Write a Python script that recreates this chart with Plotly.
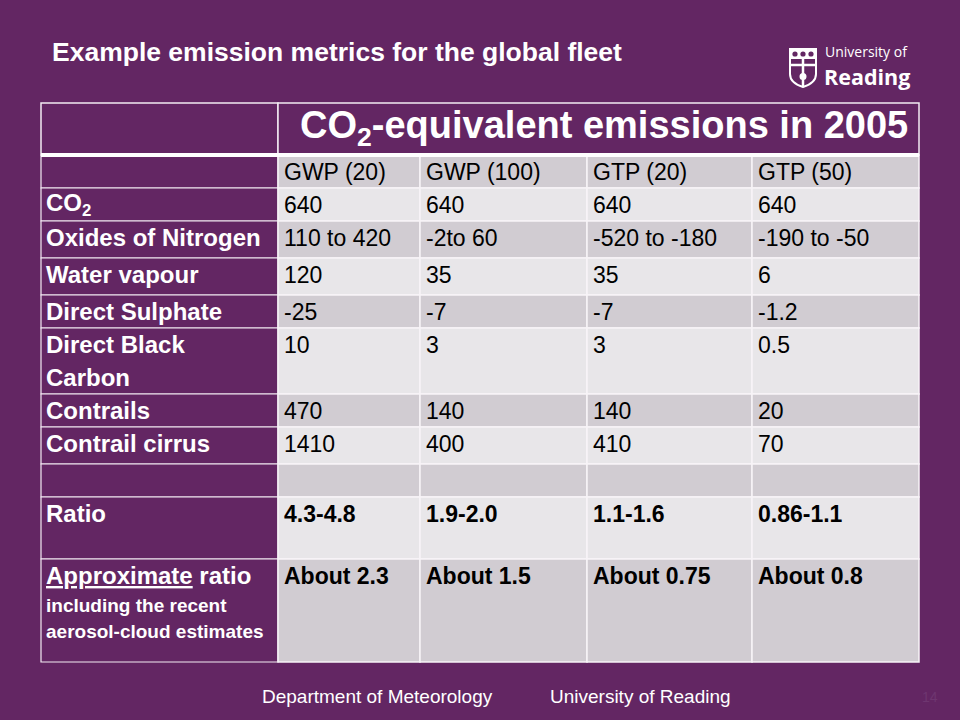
import plotly.graph_objects as go

# ---------------- data ----------------
title_text = "Example emission metrics for the global fleet"
header_text = "CO<sub>2</sub>-equivalent emissions in 2005"
metrics = ["GWP (20)", "GWP (100)", "GTP (20)", "GTP (50)"]
species = [
    ["CO<sub>2</sub>"],
    ["Oxides of Nitrogen"],
    ["Water vapour"],
    ["Direct Sulphate"],
    ["Direct Black", "Carbon"],
    ["Contrails"],
    ["Contrail cirrus"],
    [""],
    ["Ratio"],
    ["<u>Approximate</u> ratio", "including the recent", "aerosol-cloud estimates"],
]
gwp20 = ["640", "110 to 420", "120", "-25", "10", "470", "1410", "", "4.3-4.8", "About 2.3"]
gwp100 = ["640", "-2to 60", "35", "-7", "3", "140", "400", "", "1.9-2.0", "About 1.5"]
gtp20 = ["640", "-520 to -180", "35", "-7", "3", "140", "410", "", "1.1-1.6", "About 0.75"]
gtp50 = ["640", "-190 to -50", "6", "-1.2", "0.5", "20", "70", "", "0.86-1.1", "About 0.8"]
bold_rows = ["Ratio", "<u>Approximate</u> ratio"]
footer_left = "Department of Meteorology"
footer_right = "University of Reading"
logo_top = "University of"
logo_bottom = "Reading"

# ---------------- layout / style ----------------
W, H = 960, 720
BG = "#632663"
DARK = "#d1ccd2"
LIGHT = "#e8e6e9"
GRID = "#f3ecf3"
FONT = "Arial, 'Liberation Sans', sans-serif"
LOGO_FONT = "'Open Sans', 'Noto Sans', sans-serif"

col_edges = [41, 278, 420, 587, 752, 919]
header_h = 52
row_heights = [33, 33, 37, 37, 33, 66, 33, 37, 33, 62, 103]  # metric row + data rows
table_top = 103
slot = 33
pad = 4

row_edges = [table_top, table_top + header_h]
for h in row_heights:
    row_edges.append(row_edges[-1] + h)

columns = [gwp20, gwp100, gtp20, gtp50]

shapes = []
annotations = []

# top header row: two purple cells
shapes.append(dict(type="rect", x0=col_edges[0], x1=col_edges[1], y0=row_edges[0], y1=row_edges[1],
                   fillcolor=BG, line=dict(color=GRID, width=1.5), layer="below"))
shapes.append(dict(type="rect", x0=col_edges[1], x1=col_edges[-1], y0=row_edges[0], y1=row_edges[1],
                   fillcolor=BG, line=dict(color=GRID, width=1.5), layer="below"))
annotations.append(dict(text="<b>" + header_text + "</b>", x=(col_edges[1] + col_edges[-1]) / 2 + 5,
                        y=row_edges[0] + 25, xanchor="center", yanchor="middle", showarrow=False,
                        font=dict(family=FONT, size=38, color="white")))

last = len(row_heights) - 1
# body rows
for r in range(len(row_heights)):
    y0, y1 = row_edges[r + 1], row_edges[r + 2]
    fill = DARK if r % 2 == 0 else LIGHT
    # label column
    shapes.append(dict(type="rect", x0=col_edges[0], x1=col_edges[1], y0=y0, y1=y1,
                       fillcolor=BG, line=dict(color=GRID, width=1.2), layer="below"))
    for c in range(4):
        shapes.append(dict(type="rect", x0=col_edges[c + 1], x1=col_edges[c + 2], y0=y0, y1=y1,
                           fillcolor=fill, line=dict(color="#f7f4f7", width=1.5), layer="below"))
    if r == 0:
        labels = [""]
        values = metrics
        bold = False
    else:
        labels = species[r - 1]
        values = [col[r - 1] for col in columns]
        bold = labels[0] in bold_rows
    # label text
    for k, line in enumerate(labels):
        if not line:
            continue
        if r == last and k > 0:
            size = 19
            yc = y0 + slot / 2 + 4 + k * 26
        else:
            size = 24
            yc = y0 + slot / 2 + k * slot
        annotations.append(dict(text="<b>" + line + "</b>", x=col_edges[0] + pad - 1, y=yc,
                                xanchor="left", yanchor="middle", showarrow=False,
                                font=dict(family=FONT, size=size, color="white")))
    # values
    for c, v in enumerate(values):
        if not v:
            continue
        txt = "<b>" + v + "</b>" if bold else v
        annotations.append(dict(text=txt, x=col_edges[c + 1] + pad, y=y0 + slot / 2,
                                xanchor="left", yanchor="middle", showarrow=False,
                                font=dict(family=FONT, size=23, color="black")))

# thick separator under the header
shapes.append(dict(type="line", x0=col_edges[0], x1=col_edges[-1], y0=row_edges[1], y1=row_edges[1],
                   line=dict(color="white", width=4)))

# title
annotations.append(dict(text="<b>" + title_text + "</b>", x=50, y=52, xanchor="left", yanchor="middle",
                        showarrow=False, font=dict(family=FONT, size=26.5, color="white")))

# footer
annotations.append(dict(text=footer_left, x=260, y=696, xanchor="left", yanchor="middle", showarrow=False,
                        font=dict(family=FONT, size=19, color="white")))
annotations.append(dict(text=footer_right, x=548, y=696, xanchor="left", yanchor="middle", showarrow=False,
                        font=dict(family=FONT, size=19, color="white")))
annotations.append(dict(text="14", x=930, y=697, xanchor="center", yanchor="middle", showarrow=False,
                        font=dict(family=FONT, size=14, color="#6e3670")))

# logo: shield
shapes.append(dict(type="path", path="M790,49 L816,49 L816,74 Q816,83 803,87 Q790,83 790,74 Z",
                   fillcolor=BG, line=dict(color="white", width=2)))
shapes.append(dict(type="rect", x0=790, x1=816, y0=49, y1=59, fillcolor="white", line=dict(width=0)))
for cx in (795, 803, 811):
    shapes.append(dict(type="circle", x0=cx - 2.6, x1=cx + 2.6, y0=51.4, y1=56.6,
                       fillcolor=BG, line=dict(width=0)))
shapes.append(dict(type="line", x0=790, x1=816, y0=65, y1=65, line=dict(color="white", width=2.5)))
shapes.append(dict(type="line", x0=803, x1=803, y0=59, y1=87, line=dict(color="white", width=2.5)))
shapes.append(dict(type="circle", x0=799.5, x1=806.5, y0=73, y1=80, fillcolor="white", line=dict(width=0)))
annotations.append(dict(text=logo_top, x=824, y=51.5, xanchor="left", yanchor="middle", showarrow=False,
                        borderpad=0, font=dict(family=LOGO_FONT, size=14, color="white")))
annotations.append(dict(text="<b>" + logo_bottom + "</b>", x=823, y=76, xanchor="left", yanchor="middle",
                        showarrow=False, borderpad=0,
                        font=dict(family=LOGO_FONT, size=21.5, color="white")))

fig = go.Figure()
fig.update_layout(
    width=W, height=H,
    margin=dict(l=0, r=0, t=0, b=0),
    paper_bgcolor=BG, plot_bgcolor=BG,
    xaxis=dict(range=[0, W], visible=False, fixedrange=True),
    yaxis=dict(range=[H, 0], visible=False, fixedrange=True),
    shapes=shapes, annotations=annotations,
    showlegend=False,
)
fig.write_html("out.html", config={"displayModeBar": False},
               post_script="document.body.style.margin='0';document.body.style.overflow='hidden';")
